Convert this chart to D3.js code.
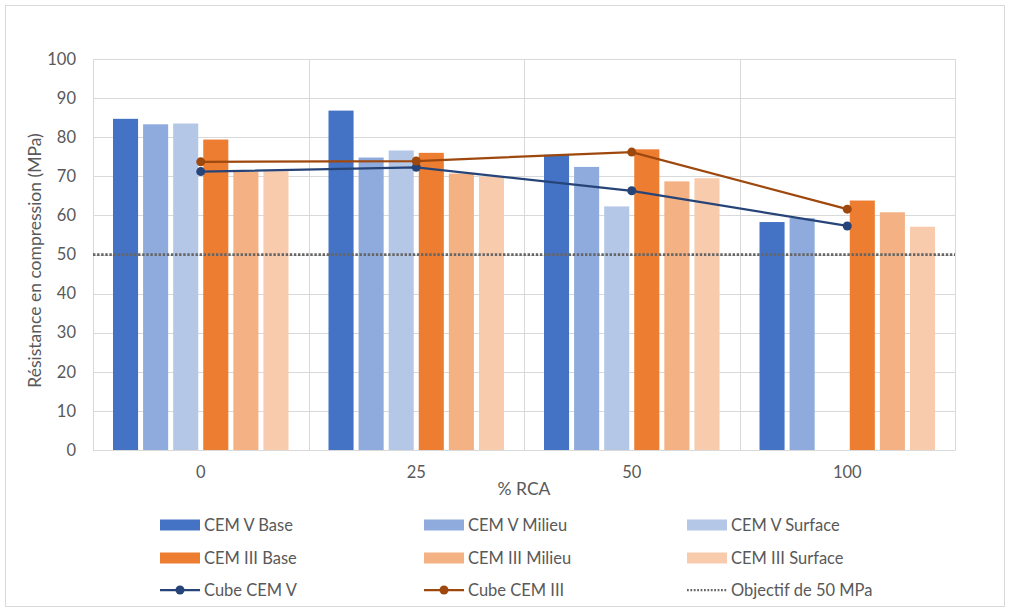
<!DOCTYPE html>
<html>
<head>
<meta charset="utf-8">
<script src="https://cdn.jsdelivr.net/npm/d3@7"></script>
<style>
  html, body { margin: 0; padding: 0; background: #fff; }
  text { font-family: Lato, "Open Sans", sans-serif; fill: #595959; }
</style>
</head>
<body>
<svg id="chart" width="1010" height="612"></svg>
<script>
// ---- Data ----
const categories = ["0", "25", "50", "100"];
const yTicks = [0, 10, 20, 30, 40, 50, 60, 70, 80, 90, 100];
const barSeriesNames = ["CEM V Base", "CEM V Milieu", "CEM V Surface", "CEM III Base", "CEM III Milieu", "CEM III Surface"];
const cemVBase = [84.7, 86.8, 75.5, 58.3];
const cemVMilieu = [83.3, 74.8, 72.4, 59.3];
const cemVSurface = [83.5, 76.6, 62.3, null];
const cemIIIBase = [79.4, 76.0, 76.9, 63.8];
const cemIIIMilieu = [71.2, 70.7, 68.7, 60.8];
const cemIIISurface = [71.3, 69.9, 69.5, 57.1];
const cubeCemV = [71.2, 72.3, 66.3, 57.3];
const cubeCemIII = [73.7, 73.9, 76.2, 61.6];
const objectif = 50;

const barValues = [cemVBase, cemVMilieu, cemVSurface, cemIIIBase, cemIIIMilieu, cemIIISurface];
const barColors = ["#4472C4", "#8FAADC", "#B4C7E7", "#ED7D31", "#F4B183", "#F8CBAD"];
const cubeVColor = "#264478", cubeIIIColor = "#9E480E", objColor = "#666666";

// ---- Layout ----
const svg = d3.select("#chart");
const L = 93, R = 955, T = 59, B = 450;

svg.append("rect").attr("x", 0).attr("y", 0).attr("width", 1010).attr("height", 612).attr("fill", "#fff");
svg.append("rect").attr("x", 5.5).attr("y", 5.5).attr("width", 999).attr("height", 601)
  .attr("fill", "none").attr("stroke", "#d9d9d9").attr("stroke-width", 1);

const x0 = d3.scaleBand().domain(categories).range([L, R]).padding(0);
const gw = x0.bandwidth();
const x1 = d3.scaleBand().domain(barSeriesNames).range([20, gw - 20]).paddingInner(1 / 6).paddingOuter(0);
const y = d3.scaleLinear().domain([0, 100]).range([B, T]);

// gridlines
const grid = svg.append("g");
yTicks.forEach(t => {
  grid.append("line").attr("x1", L).attr("x2", R).attr("y1", Math.round(y(t)) + 0.5).attr("y2", Math.round(y(t)) + 0.5)
    .attr("stroke", "#d9d9d9").attr("stroke-width", 1);
});
const bounds = categories.map(c => x0(c)).concat([R]);
bounds.forEach(bx => {
  grid.append("line").attr("x1", Math.round(bx) + 0.5).attr("x2", Math.round(bx) + 0.5).attr("y1", T).attr("y2", B)
    .attr("stroke", "#d9d9d9").attr("stroke-width", 1);
});

// bars
const bars = svg.append("g");
barValues.forEach((vals, si) => {
  bars.selectAll(null).data(categories.map((c, i) => ({ c, v: vals[i] })).filter(d => d.v != null))
    .enter().append("rect")
    .attr("x", d => x0(d.c) + x1(barSeriesNames[si]))
    .attr("y", d => y(d.v))
    .attr("width", x1.bandwidth())
    .attr("height", d => y(0) - y(d.v))
    .attr("fill", barColors[si]);
});

// objective dotted line
svg.append("line").attr("x1", L).attr("x2", R).attr("y1", y(objectif)).attr("y2", y(objectif))
  .attr("stroke", objColor).attr("stroke-width", 2.75).attr("stroke-dasharray", "2.4,1.7");

// cube lines
function drawLine(vals, color) {
  const pts = categories.map((c, i) => [x0(c) + gw / 2, y(vals[i])]);
  svg.append("path").attr("d", d3.line()(pts)).attr("fill", "none").attr("stroke", color).attr("stroke-width", 2.25);
  svg.selectAll(null).data(pts).enter().append("circle")
    .attr("cx", d => d[0]).attr("cy", d => d[1]).attr("r", 4.5).attr("fill", color);
}
drawLine(cubeCemV, cubeVColor);
drawLine(cubeCemIII, cubeIIIColor);

// axes labels
const yAxis = svg.append("g").attr("transform", `translate(${L},0)`)
  .call(d3.axisLeft(y).tickValues(yTicks).tickSize(0).tickPadding(17));
yAxis.select(".domain").remove();
yAxis.selectAll("text").attr("font-size", 16.5).attr("fill", "#595959").attr("font-family", "Lato, sans-serif");

const xAxis = svg.append("g").attr("transform", `translate(0,${B})`)
  .call(d3.axisBottom(x0).tickSize(0).tickPadding(16));
xAxis.select(".domain").attr("stroke", "#d9d9d9");
xAxis.selectAll("text").attr("font-size", 16.5).attr("fill", "#595959").attr("font-family", "Lato, sans-serif");

svg.append("text").attr("x", (L + R) / 2).attr("y", 495).attr("text-anchor", "middle")
  .attr("font-size", 17.5).text("% RCA");
svg.append("text").attr("transform", `translate(41,${(T + B) / 2 + 6}) rotate(-90)`).attr("text-anchor", "middle")
  .attr("font-size", 17.5).text("Résistance en compression (MPa)");

// legend
const legendCols = [160, 424, 687];
const legendRows = [525, 558, 590];
const legendItems = [
  { name: barSeriesNames[0], type: "bar", color: barColors[0] },
  { name: barSeriesNames[1], type: "bar", color: barColors[1] },
  { name: barSeriesNames[2], type: "bar", color: barColors[2] },
  { name: barSeriesNames[3], type: "bar", color: barColors[3] },
  { name: barSeriesNames[4], type: "bar", color: barColors[4] },
  { name: barSeriesNames[5], type: "bar", color: barColors[5] },
  { name: "Cube CEM V", type: "line", color: cubeVColor },
  { name: "Cube CEM III", type: "line", color: cubeIIIColor },
  { name: "Objectif de 50 MPa", type: "dot", color: objColor }
];
const lg = svg.append("g");
legendItems.forEach((it, i) => {
  const lx = legendCols[i % 3], ly = legendRows[Math.floor(i / 3)];
  if (it.type === "bar") {
    lg.append("rect").attr("x", lx).attr("y", ly - 5.5).attr("width", 40).attr("height", 11).attr("fill", it.color);
  } else if (it.type === "line") {
    lg.append("line").attr("x1", lx).attr("x2", lx + 40).attr("y1", ly).attr("y2", ly).attr("stroke", it.color).attr("stroke-width", 2.25);
    lg.append("circle").attr("cx", lx + 20).attr("cy", ly).attr("r", 4.5).attr("fill", it.color);
  } else {
    lg.append("line").attr("x1", lx).attr("x2", lx + 40).attr("y1", ly).attr("y2", ly).attr("stroke", it.color)
      .attr("stroke-width", 2.25).attr("stroke-dasharray", "1.8,1.6");
  }
  lg.append("text").attr("x", lx + 44).attr("y", ly + 6).attr("font-size", 16.5).text(it.name);
});
</script>
</body>
</html>
